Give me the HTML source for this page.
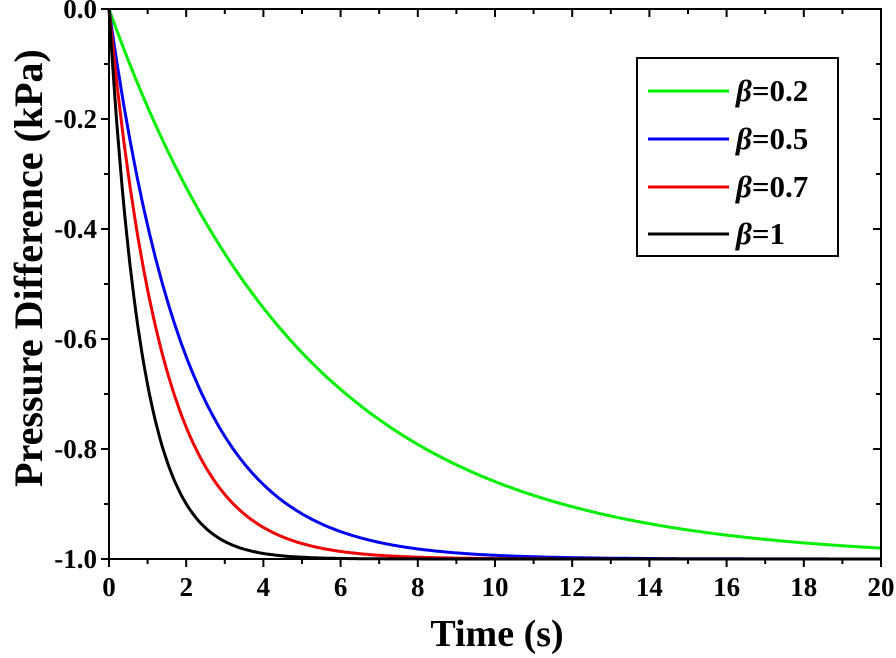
<!DOCTYPE html>
<html><head><style>body{margin:0;background:#fff}svg{display:block}</style></head><body>
<svg id="s" width="896" height="658" xmlns="http://www.w3.org/2000/svg" font-family="Liberation Serif, serif" font-weight="bold">
<g id="curves" fill="none" stroke-width="3"></g>
<rect x="109" y="9" width="772" height="550" fill="none" stroke="#000" stroke-width="2"/>
<g id="ticks" stroke="#000" stroke-width="2"></g>
<g id="labels" font-size="27" fill="#000"></g>
<text x="497" y="646" font-size="38" text-anchor="middle">Time (s)</text>
<text transform="translate(42,268) rotate(-90)" font-size="40" text-anchor="middle">Pressure Difference (kPa)</text>
<rect x="637" y="58" width="201" height="198" fill="#fff" stroke="#000" stroke-width="2"/>
<g stroke-width="3">
<line x1="648" y1="91" x2="729" y2="91" stroke="#00ee00"/>
<line x1="648" y1="139" x2="729" y2="139" stroke="#0000ee"/>
<line x1="648" y1="187" x2="729" y2="187" stroke="#ee0000"/>
<line x1="648" y1="234" x2="729" y2="234" stroke="#000"/>
</g>
<g font-size="31" fill="#000">
<text x="736" y="101"><tspan font-style="italic">β</tspan>=0.2</text>
<text x="736" y="149"><tspan font-style="italic">β</tspan>=0.5</text>
<text x="736" y="197"><tspan font-style="italic">β</tspan>=0.7</text>
<text x="736" y="244"><tspan font-style="italic">β</tspan>=1</text>
</g>
<script>
var NS='http://www.w3.org/2000/svg';
function el(parent,tag,attrs,txt){var e=document.createElementNS(NS,tag);for(var k in attrs)e.setAttribute(k,attrs[k]);if(txt!==undefined)e.textContent=txt;document.getElementById(parent).appendChild(e);return e;}
var X=function(t){return 109+t*38.6},Y=function(v){return 9-v*550};
var c=[["#00ee00",5.1],["#0000ee",2.0],["#ee0000",1.4],["#000",0.87]];
c.forEach(function(s){var d='';for(var i=0;i<=400;i++){var t=i/20;var v=-(1-Math.exp(-t/s[1]));d+=(i?'L':'M')+X(t).toFixed(1)+','+Y(v).toFixed(1);}
el('curves','path',{d:d,stroke:s[0]});});
for(var i=0;i<=20;i++){var x=X(i),m=i%2==0?8:5;
el('ticks','line',{x1:x,y1:559,x2:x,y2:559+m});el('ticks','line',{x1:x,y1:9,x2:x,y2:9+m});
if(i%2==0)el('labels','text',{x:x,y:596,'text-anchor':'middle'},String(i));}
for(var j=0;j<=10;j++){var y=9+j*55,m=j%2==0?8:5;
el('ticks','line',{x1:109,y1:y,x2:109-m,y2:y});el('ticks','line',{x1:881,y1:y,x2:881-m,y2:y});
if(j%2==0)el('labels','text',{x:97,y:y+9,'text-anchor':'end'},j==0?'0.0':(-j/10).toFixed(1));}
</script>
</svg>
</body></html>
